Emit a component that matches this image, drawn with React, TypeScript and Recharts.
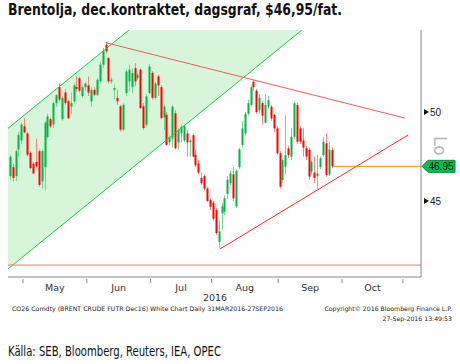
import React from "react";
import {
  ComposedChart,
  Bar,
  Area,
  XAxis,
  YAxis,
  ReferenceLine,
} from "recharts";

// CO26 Comdty daily candles, [open, high, low, close], one per weekday
// Apr 25-29 (only the tail of April is on screen)
const aprCandles = [
  [46.4, 47.6, 46.2, 47.5],
  [46.9, 47.1, 46.1, 46.3],
  [46.4, 47.9, 46.1, 47.8],
  [47.9, 48.9, 47.5, 48.7],
  [48.4, 49.4, 48.2, 49.3],
];

const mayCandles = [
  [49.2, 49.65, 48.8, 48.85],
  [48.8, 48.9, 47.5, 47.6],
  [47.7, 47.8, 46.8, 46.85],
  [47.1, 47.2, 46.5, 46.55],
  [47.2, 48.5, 46.9, 46.95],
  [47.8, 47.9, 45.8, 45.9],
  [46.1, 47.9, 45.7, 47.8],
  [46.9, 49.5, 45.6, 49.4],
  [48.6, 49.9, 48.5, 49.75],
  [49.6, 49.7, 49.1, 49.2],
  [49.3, 50.6, 49.1, 50.5],
  [50.5, 51.0, 50.3, 50.95],
  [51.4, 51.6, 50.6, 50.7],
  [49.6, 50.9, 49.5, 50.8],
  [51.1, 51.3, 50.4, 50.5],
  [50.6, 50.7, 49.6, 49.65],
  [50.3, 51.1, 49.9, 50.5],
  [50.6, 51.6, 50.5, 51.5],
  [51.4, 52.0, 51.1, 51.3],
  [51.9, 52.0, 51.1, 51.2],
  [50.9, 51.5, 50.8, 51.4],
  [51.4, 51.7, 51.2, 51.6],
];

const junCandles = [
  [51.5, 52.0, 50.9, 51.1],
  [50.6, 51.4, 50.3, 51.25],
  [51.25, 51.4, 50.9, 50.97],
  [50.97, 51.9, 50.9, 51.82],
  [51.72, 52.8, 51.6, 52.66],
  [52.66, 53.6, 52.5, 53.41],
  [53.78, 53.95, 53.3, 53.41],
  [53.03, 53.1, 51.6, 51.72],
  [51.72, 51.95, 51.6, 51.82],
  [51.25, 51.55, 50.7, 51.35],
  [50.79, 51.25, 50.4, 50.6],
  [50.32, 50.4, 48.9, 49.01],
  [49.01, 50.5, 48.9, 50.41],
  [51.07, 52.4, 50.9, 52.28],
  [51.72, 52.66, 51.16, 52.38],
  [51.4, 52.45, 51.07, 52.2],
  [52.47, 52.75, 51.44, 51.72],
  [51.91, 52.2, 51.8, 52.1],
  [52.38, 52.45, 50.2, 50.22],
  [50.32, 50.5, 49.0, 49.1],
  [49.29, 51.0, 49.2, 50.88],
  [51.07, 52.7, 51.0, 52.56],
];

const julCandles = [
  [52.2, 52.3, 50.7, 50.8],
  [50.8, 51.7, 50.7, 51.6],
  [52.0, 52.1, 50.9, 51.5],
  [51.4, 51.5, 49.6, 49.66],
  [49.7, 50.4, 49.0, 50.3],
  [49.85, 50.0, 48.1, 48.15],
  [48.3, 48.7, 48.1, 48.6],
  [48.5, 50.4, 48.0, 50.3],
  [49.93, 50.1, 47.9, 47.96],
  [48.3, 49.1, 47.9, 48.99],
  [48.8, 49.3, 48.3, 49.18],
  [48.4, 49.3, 48.3, 49.2],
  [48.8, 49.0, 47.5, 48.3],
  [48.3, 48.5, 47.5, 48.4],
  [48.7, 48.8, 47.45, 47.5],
  [47.6, 47.9, 46.9, 47.0],
  [47.1, 47.3, 46.5, 46.6],
  [46.3, 46.6, 45.9, 46.0],
  [46.4, 46.5, 45.6, 45.7],
  [45.7, 45.8, 44.95, 45.0],
  [45.06, 45.15, 44.5, 44.68],
];

const augCandles = [
  [44.9, 45.0, 43.9, 44.0],
  [44.5, 44.6, 43.1, 43.2],
  [42.7, 43.9, 42.35, 43.3],
  [44.3, 44.9, 43.4, 44.7],
  [44.4, 45.3, 44.2, 45.15],
  [45.4, 46.4, 45.1, 46.2],
  [46.0, 46.7, 45.9, 46.55],
  [46.5, 46.9, 45.0, 45.15],
  [44.7, 46.8, 44.6, 46.7],
  [46.9, 48.0, 46.8, 47.9],
  [48.15, 49.5, 48.0, 49.08],
  [48.8, 50.0, 48.7, 49.9],
  [49.9, 50.7, 49.8, 50.5],
  [50.4, 51.5, 50.3, 51.4],
  [51.7, 51.8, 51.2, 51.4],
  [51.2, 51.3, 49.9, 50.0],
  [50.1, 51.0, 49.9, 50.8],
  [50.5, 50.6, 49.3, 49.8],
  [49.4, 51.0, 49.36, 50.4],
  [50.3, 50.9, 50.2, 50.67],
  [50.3, 50.4, 49.5, 49.64],
  [49.83, 49.9, 48.9, 49.08],
  [49.08, 49.2, 47.6, 47.68],
];

// Sep 1-27
const sepCandles = [
  [47.68, 47.8, 45.7, 45.81],
  [46.18, 47.4, 46.0, 47.3],
  [46.93, 49.83, 46.5, 47.58],
  [47.96, 48.1, 47.4, 47.58],
  [47.49, 49.1, 47.3, 48.61],
  [48.61, 50.6, 48.5, 50.49],
  [50.39, 50.5, 48.2, 48.33],
  [49.08, 49.2, 48.2, 48.33],
  [48.4, 49.08, 47.49, 48.0],
  [47.96, 48.1, 47.3, 47.5],
  [47.87, 48.0, 46.2, 46.37],
  [46.65, 47.3, 46.5, 47.21],
  [46.6, 47.5, 46.0, 46.3],
  [46.4, 47.6, 45.71, 46.55],
  [46.9, 47.5, 46.8, 47.4],
  [47.58, 48.61, 47.5, 48.33],
  [48.24, 48.8, 46.37, 46.46],
  [46.5, 48.3, 46.4, 47.9],
  [47.87, 48.0, 46.85, 46.95],
];

const monthCandles = [aprCandles, mayCandles, junCandles, julCandles, augCandles, sepCandles];
const firstDay = -5; // Apr 25 in weekday units, May 2 = 0

// weekdays per month on the time axis (April counted from the 25th)
const monthDays = [5, 22, 22, 21, 23, 22, 21];
const monthLabels = ["Apr", "May", "Jun", "Jul", "Aug", "Sep", "Oct"];

const priceTicks = [45, 50];
const lastPrice = 46.95;
const dayWindow = [-5.67, 136.74];
const priceWindow = [40.73, 54.61];

// hand-drawn lines on the chart, [weekday, price]
const channelUpper = [[-6, 49.04], [137, 67.98]];
const channelLower = [[-6, 41.14], [137, 60.08]];
const resistance = [[28, 53.9], [131.2, 49.66]];
const support = [[67.4, 42.3], [132.3, 48.71]];
const floorLevel = 41.4;

type Row = {
  day: number;
  open?: number;
  high?: number;
  low?: number;
  close?: number;
  band?: [number, number];
};

const rows: Row[] = [];
let d = firstDay;
monthCandles.forEach((list) =>
  list.forEach(([open, high, low, close]) => {
    rows.push({ day: d, open, high, low, close });
    d += 1;
  })
);
const lastDay = d - 1;
rows.unshift({ day: channelLower[0][0], band: [channelLower[0][1], channelUpper[0][1]] });
rows.push({ day: channelLower[1][0], band: [channelLower[1][1], channelUpper[1][1]] });

const boundaries: number[] = [];
const labelSpots: { day: number; label: string }[] = [];
let acc = firstDay;
monthDays.forEach((n, i) => {
  const start = acc - 0.5;
  const end = acc + n - 0.5;
  if (i > 0) labelSpots.push({ day: (start + end) / 2, label: monthLabels[i] });
  boundaries.push(end);
  acc += n;
});
const xTicks = [...boundaries, ...labelSpots.map((s) => s.day)].sort((a, b) => a - b);

const UP = "#00b445";
const UP_WICK = "#74d98f";
const DOWN = "#ff0000";
const DOWN_WICK = "#f2877a";
const NARROW = "'Liberation Sans Narrow', 'DejaVu Sans Condensed', 'Liberation Sans', sans-serif";

const Candle = (props: any) => {
  const { x, y, width, height, payload } = props;
  if (!payload || payload.open === undefined || height == null) return null;
  const { open, high, low, close } = payload;
  const top = height >= 0 ? y : y + height;
  const h = Math.abs(height);
  const per = high > low ? h / (high - low) : 0;
  const py = (v: number) => top + (high - v) * per;
  const cx = Math.round(x + width / 2);
  const up = close >= open;
  const bTop = py(Math.max(open, close));
  const bBot = py(Math.min(open, close));
  return (
    <g>
      <line x1={cx + 0.5} x2={cx + 0.5} y1={top} y2={top + h} stroke={up ? UP_WICK : DOWN_WICK} strokeWidth={1} />
      <rect x={cx - 0.5} y={bTop} width={2} height={Math.max(1, bBot - bTop)} fill={up ? UP : DOWN} />
    </g>
  );
};

const MonthTick = ({ x, y, payload }: any) => {
  const spot = labelSpots.find((s) => Math.abs(s.day - payload.value) < 1e-6);
  if (spot) {
    return (
      <text x={x} y={y + 12} textAnchor="middle" fontSize={9.5} fontFamily="DejaVu Sans" fill="#333">
        {spot.label}
      </text>
    );
  }
  return <line x1={x} x2={x} y1={y} y2={y + 4} stroke="#888" />;
};

const PriceTick = ({ x, y, payload }: any) => (
  <g>
    <path d={`M${x + 1},${y - 3}L${x + 6},${y}L${x + 1},${y + 3}Z`} fill="#111" />
    <text x={x + 7} y={y + 3.5} fontSize={10} fontFamily="Liberation Sans" fill="#222">
      {payload.value}
    </text>
  </g>
);

const PriceTag = (props: any) => {
  const vb = props.viewBox || {};
  const ex = vb.x + vb.width;
  const cy = vb.y;
  return (
    <g>
      <path
        d={`M${ex + 1},${cy}L${ex + 7},${cy - 6}L${ex + 34},${cy - 6}L${ex + 34},${cy + 6}L${ex + 7},${cy + 6}Z`}
        fill="#00c050"
        stroke="#008a3a"
      />
      <text x={ex + 20} y={cy + 3.5} textAnchor="middle" fontSize={10} fontFamily="Liberation Sans" fill="#000">
        {lastPrice.toFixed(2)}
      </text>
    </g>
  );
};

const seg = (p: number[][]) => [
  { x: p[0][0], y: p[0][1] },
  { x: p[1][0], y: p[1][1] },
];

export default function App() {
  return (
    <div
      style={{
        position: "fixed",
        left: 0,
        top: 0,
        width: 460,
        height: 364,
        background: "#fff",
        overflow: "hidden",
      }}
    >
      <ComposedChart
        width={460}
        height={300}
        data={rows}
        margin={{ top: 30, right: 0, bottom: 0, left: 8 }}
      >
        <XAxis
          dataKey="day"
          type="number"
          domain={dayWindow}
          allowDataOverflow
          ticks={xTicks}
          interval={0}
          tick={MonthTick}
          tickLine={false}
          tickSize={0}
          height={23}
          axisLine={{ stroke: "#888" }}
        />
        <YAxis
          orientation="right"
          width={39}
          domain={priceWindow}
          allowDataOverflow
          ticks={priceTicks}
          interval={0}
          tick={PriceTick}
          tickLine={false}
          tickSize={0}
          axisLine={{ stroke: "#888" }}
        />
        <Area
          dataKey="band"
          type="linear"
          connectNulls
          stroke="none"
          fill="#d7f6d9"
          fillOpacity={1}
          dot={false}
          activeDot={false}
          isAnimationActive={false}
        />
        <ReferenceLine segment={seg(channelUpper)} stroke="#1dc84a" ifOverflow="hidden" />
        <ReferenceLine segment={seg(channelLower)} stroke="#1dc84a" ifOverflow="hidden" />
        <ReferenceLine y={floorLevel} stroke="#f07a6a" />
        <ReferenceLine segment={seg(resistance)} stroke="#f05a5a" />
        <ReferenceLine segment={seg(support)} stroke="#ff2a2a" />
        <ReferenceLine
          segment={[
            { x: lastDay + 0.4, y: lastPrice },
            { x: dayWindow[1], y: lastPrice },
          ]}
          stroke="#ff8c00"
          label={PriceTag}
        />
        <Bar
          dataKey={(r: Row) => (r.open === undefined ? null : [r.low, r.high])}
          barSize={3}
          shape={Candle}
          isAnimationActive={false}
        />
      </ComposedChart>
      <svg
        width={460}
        height={364}
        style={{ position: "absolute", left: 0, top: 0, pointerEvents: "none" }}
      >
        <text
          x={8}
          y={15}
          fontSize={15}
          fontWeight="bold"
          fontFamily={NARROW}
          fill="#111"
          textLength={334}
          lengthAdjust="spacingAndGlyphs"
        >
          Brentolja, dec.kontraktet, dagsgraf, $46,95/fat.
        </text>
        <text x={434} y={136} transform="rotate(90 434 136)" fontSize={17} fontFamily="DejaVu Sans" fill="#b4b4b4">
          Lo
        </text>
        <text x={215} y={301} textAnchor="middle" fontSize={9.5} fontFamily="DejaVu Sans" fill="#333">
          2016
        </text>
        <text x={12} y={311} fontSize={6.2} fontFamily="DejaVu Sans" fill="#222" textLength={271} lengthAdjust="spacingAndGlyphs">
          CO26 Comdty (BRENT CRUDE FUTR  Dec16) White Chart  Daily 31MAR2016-27SEP2016
        </text>
        <text x={452} y={311} textAnchor="end" fontSize={6.2} fontFamily="DejaVu Sans" fill="#222">
          Copyright© 2016 Bloomberg Finance L.P.
        </text>
        <text x={452} y={321} textAnchor="end" fontSize={6.2} fontFamily="DejaVu Sans" fill="#222">
          27-Sep-2016 13:49:53
        </text>
        <text
          x={8}
          y={356}
          fontSize={13.5}
          fontFamily={NARROW}
          fill="#111"
          textLength={213}
          lengthAdjust="spacingAndGlyphs"
        >
          Källa: SEB, Bloomberg, Reuters, IEA, OPEC
        </text>
      </svg>
    </div>
  );
}
